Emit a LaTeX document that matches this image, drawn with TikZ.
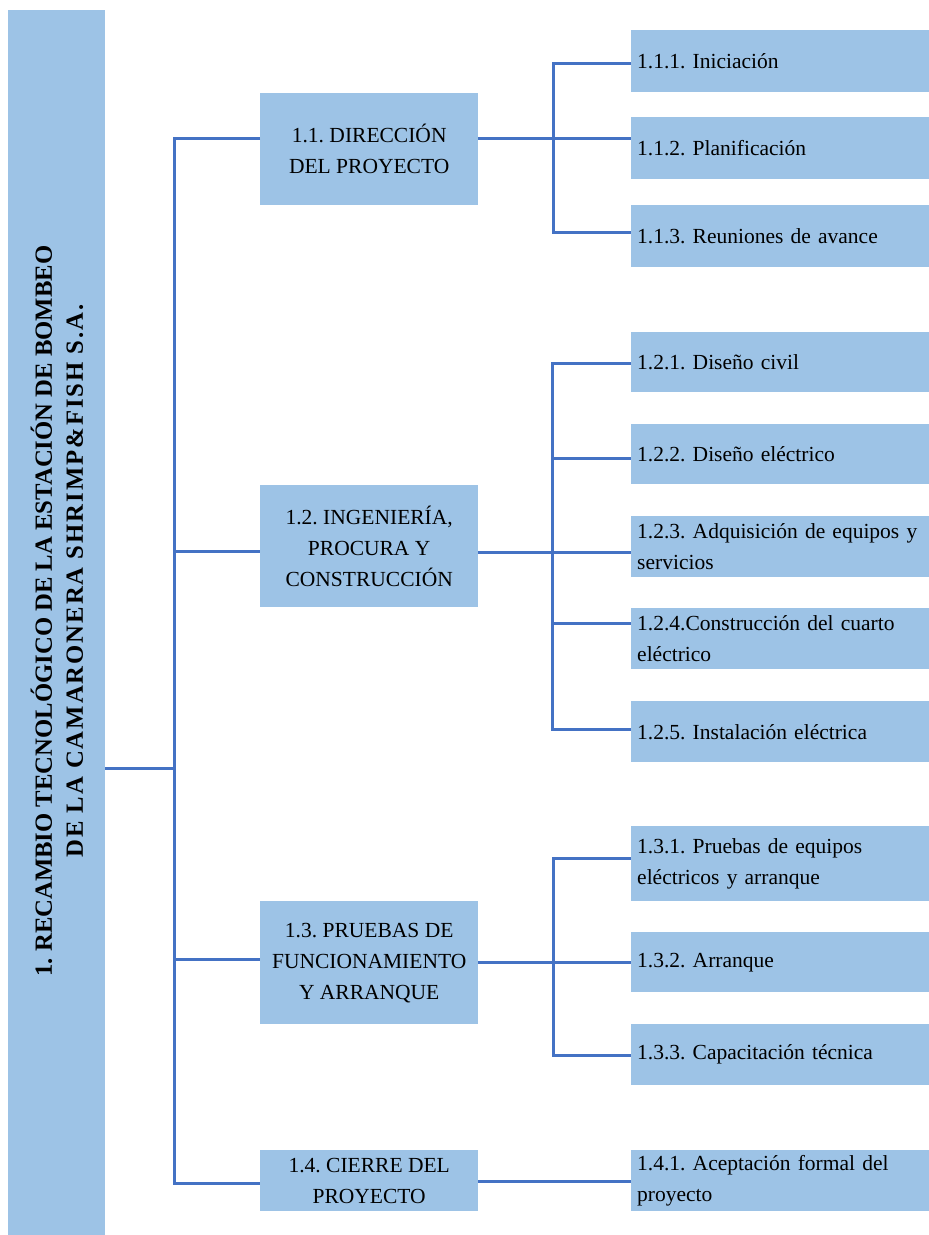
\documentclass[tikz,border=0pt]{standalone}
\usepackage{fontspec}
\setmainfont{Liberation Serif}
\definecolor{boxblue}{HTML}{9DC3E6}
\definecolor{lineblue}{HTML}{4472C4}
\tikzset{
  box/.style={fill=boxblue, draw=none, inner sep=0pt},
  l2/.style={box, anchor=north west, minimum width=218pt, align=center,
    font=\frenchspacing\fontsize{21.5}{31}\selectfont},
  l3/.style={box, anchor=north west, minimum width=298pt, text width=286pt,
    inner xsep=6pt, align=left, font=\frenchspacing\fontsize{21.5}{31}\selectfont},
  con/.style={draw=lineblue, line width=3pt},
}
\begin{document}
\begin{tikzpicture}[x=1pt, y=-1pt]
\useasboundingbox (0,0) rectangle (929,1235);
% root
\node[box, anchor=north west, minimum width=97pt, minimum height=1225pt] (root) at (8,10) {};
\node[rotate=90, align=center, font=\frenchspacing\bfseries\fontsize{24.7}{31}\selectfont] (title) at (57,611)
  {1. RECAMBIO TECNOLÓGICO DE LA ESTACIÓN DE BOMBEO\\\hspace*{60pt}{\addfontfeature{LetterSpace=8}DE LA CAMARONERA SHRIMP\&FISH S.A.}};
% level 2
\node[l2, minimum height=112pt] (n11) at (260,93) {1.1. DIRECCIÓN\\DEL PROYECTO};
\node[l2, minimum height=122pt] (n12) at (260,485) {1.2. INGENIERÍA,\\PROCURA Y\\CONSTRUCCIÓN};
\node[l2, minimum height=123pt] (n13) at (260,901) {1.3. PRUEBAS DE\\FUNCIONAMIENTO\\Y ARRANQUE};
\node[l2, minimum height=61pt] (n14) at (260,1150) {1.4. CIERRE DEL\\PROYECTO};
% level 3
\node[l3, minimum height=62pt] (n111) at (631,30) {1.1.1. Iniciación};
\node[l3, minimum height=62pt] (n112) at (631,117) {1.1.2. Planificación};
\node[l3, minimum height=62pt] (n113) at (631,205) {1.1.3. Reuniones de avance};
\node[l3, minimum height=60pt] (n121) at (631,332) {1.2.1. Diseño civil};
\node[l3, minimum height=60pt] (n122) at (631,424) {1.2.2. Diseño eléctrico};
\node[l3, minimum height=61pt] (n123) at (631,516) {1.2.3. Adquisición de equipos y\\servicios};
\node[l3, minimum height=61pt] (n124) at (631,608) {1.2.4.Construcción del cuarto\\eléctrico};
\node[l3, minimum height=61pt] (n125) at (631,701) {1.2.5. Instalación eléctrica};
\node[l3, minimum height=75pt] (n131) at (631,826) {1.3.1. Pruebas de equipos\\eléctricos y arranque};
\node[l3, minimum height=60pt] (n132) at (631,932) {1.3.2. Arranque};
\node[l3, minimum height=61pt] (n133) at (631,1024) {1.3.3. Capacitación técnica};
\node[l3, minimum height=61pt] (n141) at (631,1150) {1.4.1. Aceptación formal del\\proyecto};
% junction levels
\coordinate (m) at (174,768);
\coordinate (ya) at (0,138);
\coordinate (yb) at (0,551);
\coordinate (yc) at (0,959);
\coordinate (yd) at (0,1183);
\coordinate (j1) at (553,138);
\coordinate (j2) at (552,552);
\coordinate (j3) at (553,962);
\coordinate (y111) at (0,63);
\coordinate (y113) at (0,232);
\coordinate (y121) at (0,363);
\coordinate (y122) at (0,458);
\coordinate (y124) at (0,623);
\coordinate (y125) at (0,729);
\coordinate (y131) at (0,858);
\coordinate (y133) at (0,1055);
\coordinate (y14) at (0,1181);
% root connectors
\draw[con] (root.east |- m) -- (m);
\draw[con] (n11.west |- ya) -- (m |- ya) -- (m |- yd) -- (n14.west |- yd);
\draw[con] (m |- yb) -- (n12.west |- yb);
\draw[con] (m |- yc) -- (n13.west |- yc);
% 1.1
\draw[con] (n11.east |- j1) -- (n112.west |- j1);
\draw[con] (n111.west |- y111) -- (j1 |- y111) -- (j1 |- y113) -- (n113.west |- y113);
% 1.2
\draw[con] (n12.east |- j2) -- (n123.west |- j2);
\draw[con] (n121.west |- y121) -- (j2 |- y121) -- (j2 |- y125) -- (n125.west |- y125);
\draw[con] (j2 |- y122) -- (n122.west |- y122);
\draw[con] (j2 |- y124) -- (n124.west |- y124);
% 1.3
\draw[con] (n13.east |- j3) -- (n132.west |- j3);
\draw[con] (n131.west |- y131) -- (j3 |- y131) -- (j3 |- y133) -- (n133.west |- y133);
% 1.4
\draw[con] (n14.east |- y14) -- (n141.west |- y14);
\end{tikzpicture}
\end{document}
